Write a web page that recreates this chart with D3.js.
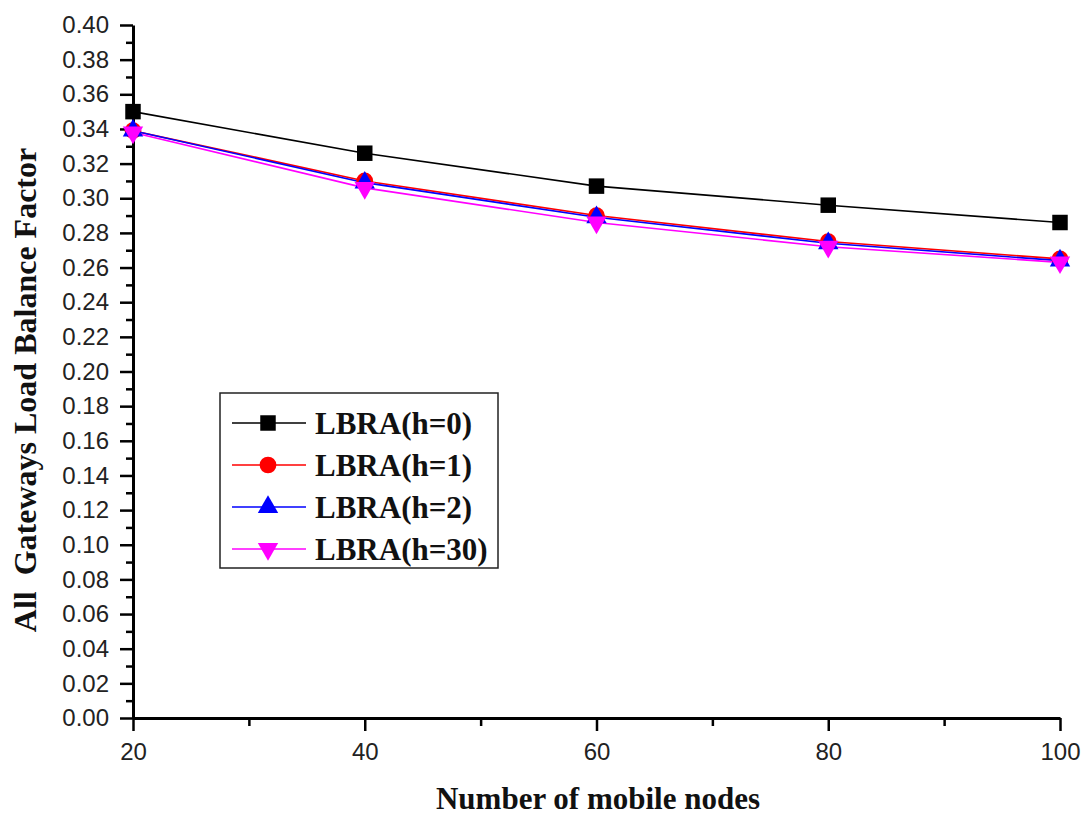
<!DOCTYPE html>
<html>
<head>
<meta charset="utf-8">
<script src="https://cdn.jsdelivr.net/npm/d3@7/dist/d3.min.js"></script>
<style>
  body { margin: 0; background: #fff; }
  svg { display: block; }
</style>
</head>
<body>
<div id="chart"></div>
<script>
// values
const NODES = [20, 40, 60, 80, 100]
const H0 = [0.350, 0.326, 0.307, 0.296, 0.286]
const H1 = [0.339, 0.310, 0.290, 0.275, 0.265]
const H2 = [0.339, 0.309, 0.289, 0.274, 0.264]
const H30 = [0.338, 0.306, 0.286, 0.272, 0.263]
const SERIES_NAMES = ["LBRA(h=0)", "LBRA(h=1)", "LBRA(h=2)", "LBRA(h=30)"]
const Y_TICKS = d3.range(0, 0.401, 0.02)
const X_TICKS = [20, 40, 60, 80, 100]

const width = 1088, height = 816
const margin = { top: 25, right: 28, bottom: 98, left: 133 }

const series = [
  { name: SERIES_NAMES[0], values: H0, color: "#000000", sym: d3.symbolSquare, size: 240, rot: 0 },
  { name: SERIES_NAMES[1], values: H1, color: "#ff0000", sym: d3.symbolCircle, size: 220, rot: 0 },
  { name: SERIES_NAMES[2], values: H2, color: "#0000ff", sym: d3.symbolTriangle, size: 180, rot: 0 },
  { name: SERIES_NAMES[3], values: H30, color: "#ff00ff", sym: d3.symbolTriangle, size: 180, rot: 180 }
]

const svg = d3.select("#chart").append("svg")
  .attr("width", width)
  .attr("height", height)

const x = d3.scaleLinear().domain([20, 100]).range([margin.left, width - margin.right])
const y = d3.scaleLinear().domain([0, 0.40]).range([height - margin.bottom, margin.top])

// minor ticks
svg.append("g")
  .attr("transform", `translate(${margin.left},0)`)
  .call(d3.axisLeft(y).tickValues(d3.range(0.01, 0.40, 0.02)).tickSize(7).tickFormat(""))
  .call(g => g.select(".domain").remove())
  .selectAll("line").attr("stroke-width", 2.5)

svg.append("g")
  .attr("transform", `translate(0,${height - margin.bottom})`)
  .call(d3.axisBottom(x).tickValues([30, 50, 70, 90]).tickSize(8).tickFormat(""))
  .call(g => g.select(".domain").remove())
  .selectAll("line").attr("stroke-width", 2.5)

// main axes
const yAxis = svg.append("g")
  .attr("transform", `translate(${margin.left},0)`)
  .call(d3.axisLeft(y).tickValues(Y_TICKS).tickSize(13).tickSizeOuter(0).tickPadding(11).tickFormat(d3.format(".2f")))
yAxis.select(".domain").attr("stroke-width", 3)
yAxis.selectAll(".tick line").attr("stroke-width", 2.5)
yAxis.selectAll("text")
  .attr("font-family", "Liberation Sans, Arial, sans-serif")
  .attr("font-size", "24px")
  .attr("fill", "#222")

const xAxis = svg.append("g")
  .attr("transform", `translate(0,${height - margin.bottom})`)
  .call(d3.axisBottom(x).tickValues(X_TICKS).tickSize(13).tickSizeOuter(0).tickPadding(12))
xAxis.select(".domain").attr("stroke-width", 3)
xAxis.selectAll(".tick line").attr("stroke-width", 2.5)
xAxis.selectAll("text")
  .attr("font-family", "Liberation Sans, Arial, sans-serif")
  .attr("font-size", "24px")
  .attr("fill", "#222")

// axis titles
svg.append("text")
  .attr("x", 598)
  .attr("y", 809)
  .attr("text-anchor", "middle")
  .attr("font-family", "Liberation Serif, Times New Roman, serif")
  .attr("font-weight", "bold")
  .attr("font-size", "31px")
  .attr("fill", "#111")
  .text("Number of mobile nodes")

svg.append("text")
  .attr("transform", "translate(36,390) rotate(-90)")
  .attr("text-anchor", "middle")
  .attr("font-family", "Liberation Serif, Times New Roman, serif")
  .attr("font-weight", "bold")
  .attr("font-size", "32px")
  .attr("fill", "#111")
  .attr("xml:space", "preserve")
  .style("white-space", "pre")
  .text("All  Gateways Load Balance Factor")

// lines and markers
const line = d3.line().x((d, i) => x(NODES[i])).y(d => y(d))

series.forEach(s => {
  svg.append("path")
    .datum(s.values)
    .attr("d", line)
    .attr("fill", "none")
    .attr("stroke", s.color)
    .attr("stroke-width", 1.6)
})

series.forEach(s => {
  svg.selectAll(null)
    .data(s.values)
    .enter().append("path")
    .attr("d", d3.symbol().type(s.sym).size(s.size))
    .attr("transform", (d, i) => `translate(${x(NODES[i])},${y(d)}) rotate(${s.rot})`)
    .attr("fill", s.color)
})

// legend
const lg = svg.append("g").attr("transform", "translate(220,393)")
lg.append("rect")
  .attr("width", 278).attr("height", 175)
  .attr("fill", "#fff").attr("stroke", "#222").attr("stroke-width", 1.5)

series.forEach((s, i) => {
  const yy = 30 + i * 42
  lg.append("line")
    .attr("x1", 12).attr("x2", 86).attr("y1", yy).attr("y2", yy)
    .attr("stroke", s.color).attr("stroke-width", 1.5)
  lg.append("path")
    .attr("d", d3.symbol().type(s.sym).size(s.size))
    .attr("transform", `translate(48,${yy}) rotate(${s.rot})`)
    .attr("fill", s.color)
  lg.append("text")
    .attr("x", 95).attr("y", yy + 11)
    .attr("font-family", "Liberation Serif, Times New Roman, serif")
    .attr("font-weight", "bold")
    .attr("font-size", "31px")
    .attr("fill", "#111")
    .text(s.name)
})
</script>
</body>
</html>
